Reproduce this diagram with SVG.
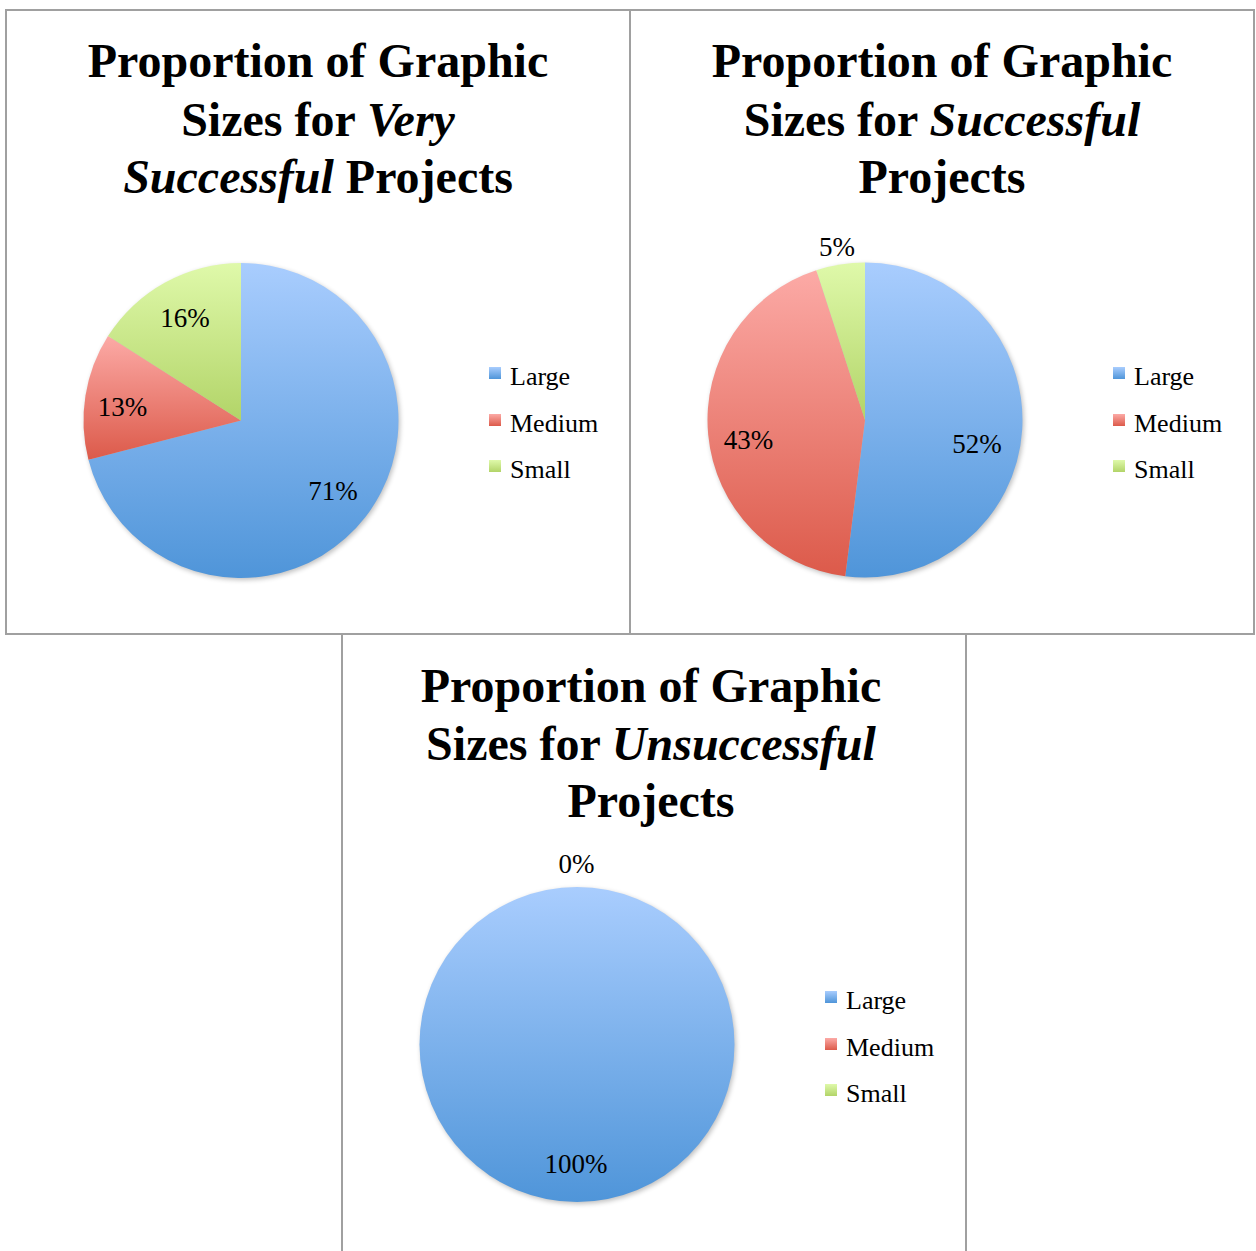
<svg xmlns="http://www.w3.org/2000/svg" width="1256" height="1251" viewBox="0 0 1256 1251">
<style>
.frame{fill:none;stroke:#a0a0a0;stroke-width:2}
.title{font-family:"Liberation Serif","Times New Roman",serif;font-weight:bold;font-size:48px;fill:#000;text-anchor:middle}
.it{font-style:italic}
.lbl{font-family:"Liberation Serif","Times New Roman",serif;font-size:27px;fill:#000;text-anchor:middle}
.leg{font-family:"Liberation Serif","Times New Roman",serif;font-size:26px;fill:#000}
.large{fill:url(#gBlue)}
.medium{fill:url(#gRed)}
.small{fill:url(#gGreen)}
</style>
<defs>
<linearGradient id="gBlue" x1="0" y1="0" x2="0" y2="1"><stop offset="0" stop-color="#a9cdfe"/><stop offset="1" stop-color="#4f95d9"/></linearGradient>
<linearGradient id="gRed" x1="0" y1="0" x2="0" y2="1"><stop offset="0" stop-color="#fcaaa6"/><stop offset="1" stop-color="#dc5a4a"/></linearGradient>
<linearGradient id="gGreen" x1="0" y1="0" x2="0" y2="1"><stop offset="0" stop-color="#dff9aa"/><stop offset="1" stop-color="#b2d468"/></linearGradient>
<filter id="shadow" x="-10%" y="-10%" width="120%" height="120%"><feGaussianBlur stdDeviation="2.5"/></filter>
</defs>
<rect width="1256" height="1251" fill="#fff"/>

<g id="frames">
<rect class="frame" x="6" y="10" width="624" height="624"/>
<rect class="frame" x="630" y="10" width="624" height="624"/>
<path class="frame" d="M342,634 V1252 M966,634 V1252"/>
</g>

<g id="chart-very-successful">
<text class="title" x="318" y="77">Proportion of Graphic</text>
<text class="title" x="318" y="136">Sizes for <tspan class="it">Very</tspan></text>
<text class="title" x="318" y="193"><tspan class="it">Successful</tspan> Projects</text>
<circle cx="242.5" cy="422.5" r="157.5" fill="#000" opacity="0.25" filter="url(#shadow)"/>
<path class="large" d="M241,420.5 L241,263 A157.5,157.5 0 1 1 88.45,459.67 Z"/>
<path class="medium" d="M241,420.5 L88.45,459.67 A157.5,157.5 0 0 1 108.02,336.11 Z"/>
<path class="small" d="M241,420.5 L108.02,336.11 A157.5,157.5 0 0 1 241,263 Z"/>
<text class="lbl" x="185" y="327">16%</text>
<text class="lbl" x="122.5" y="416">13%</text>
<text class="lbl" x="333" y="500">71%</text>
<rect class="large" x="489" y="367" width="12" height="12"/>
<text class="leg" x="510" y="385">Large</text>
<rect class="medium" x="489" y="414" width="12" height="12"/>
<text class="leg" x="510" y="432">Medium</text>
<rect class="small" x="489" y="460" width="12" height="12"/>
<text class="leg" x="510" y="478">Small</text>
</g>

<g id="chart-successful">
<text class="title" x="942" y="77">Proportion of Graphic</text>
<text class="title" x="942" y="136">Sizes for <tspan class="it">Successful</tspan></text>
<text class="title" x="942" y="193">Projects</text>
<circle cx="866.5" cy="422" r="157.5" fill="#000" opacity="0.25" filter="url(#shadow)"/>
<path class="large" d="M865,420 L865,262.5 A157.5,157.5 0 1 1 845.26,576.26 Z"/>
<path class="medium" d="M865,420 L845.26,576.26 A157.5,157.5 0 0 1 816.33,270.21 Z"/>
<path class="small" d="M865,420 L816.33,270.21 A157.5,157.5 0 0 1 865,262.5 Z"/>
<text class="lbl" x="837" y="256">5%</text>
<text class="lbl" x="748.5" y="449">43%</text>
<text class="lbl" x="977" y="453">52%</text>
<rect class="large" x="1113" y="367" width="12" height="12"/>
<text class="leg" x="1134" y="385">Large</text>
<rect class="medium" x="1113" y="414" width="12" height="12"/>
<text class="leg" x="1134" y="432">Medium</text>
<rect class="small" x="1113" y="460" width="12" height="12"/>
<text class="leg" x="1134" y="478">Small</text>
</g>

<g id="chart-unsuccessful">
<text class="title" x="651" y="702">Proportion of Graphic</text>
<text class="title" x="651" y="760">Sizes for <tspan class="it">Unsuccessful</tspan></text>
<text class="title" x="651" y="817">Projects</text>
<circle cx="578.5" cy="1046.5" r="157.5" fill="#000" opacity="0.25" filter="url(#shadow)"/>
<circle class="large" cx="577" cy="1044.5" r="157.5"/>
<text class="lbl" x="576.5" y="873">0%</text>
<text class="lbl" x="576" y="1173">100%</text>
<rect class="large" x="825" y="991" width="12" height="12"/>
<text class="leg" x="846" y="1009">Large</text>
<rect class="medium" x="825" y="1038" width="12" height="12"/>
<text class="leg" x="846" y="1056">Medium</text>
<rect class="small" x="825" y="1084" width="12" height="12"/>
<text class="leg" x="846" y="1102">Small</text>
</g>
</svg>
